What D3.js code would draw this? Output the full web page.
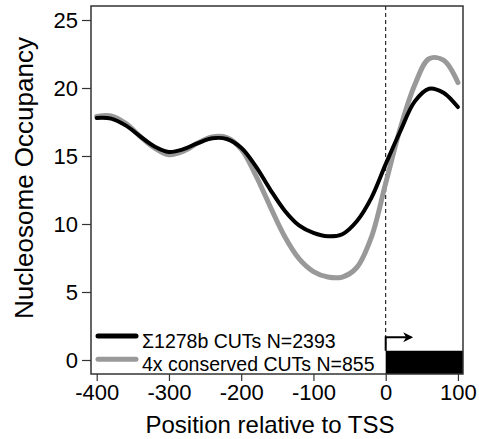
<!DOCTYPE html>
<html>
<head>
<meta charset="utf-8">
<script src="https://cdn.jsdelivr.net/npm/d3@7"></script>
<style>
  body { margin: 0; background: #fff; }
  text { font-family: "Liberation Sans", Arial, sans-serif; }
</style>
</head>
<body>
<div id="chart"></div>
<script>
// data
const positions = [-400, -380, -360, -340, -320, -300, -280, -260, -240, -220, -200, -180, -160,
  -140, -120, -100, -80, -60, -40, -20, 0, 20, 40, 60, 80, 100];
const sigmaOcc = [17.8, 17.75, 17.25, 16.45, 15.7, 15.3, 15.5, 15.95, 16.3, 16.25, 15.6, 14.25, 12.55,
  11.0, 9.9, 9.35, 9.1, 9.25, 10.2, 11.9, 14.4, 16.8, 19.0, 19.95, 19.65, 18.6];
const conservedOcc = [17.9, 17.95, 17.4, 16.45, 15.6, 15.1, 15.35, 15.95, 16.4, 16.35, 15.5, 13.6, 11.3,
  9.1, 7.45, 6.5, 6.1, 6.1, 6.8, 9.0, 13.0, 17.0, 20.2, 22.15, 22.05, 20.4];
const seriesNames = ["\u03A31278b CUTs N=2393", "4x conserved CUTs N=855"];
const seriesColors = ["#000000", "#999999"];
const xTicks = [-400, -300, -200, -100, 0, 100];
const yTicks = [0, 5, 10, 15, 20, 25];
const geneStart = 0, geneEnd = 107, geneHeight = 0.68;
const arrowTop = 1.67, arrowEnd = 38;

const margin = { top: 6, right: 16, bottom: 65, left: 91 },
    width = 479 - margin.left - margin.right,
    height = 439 - margin.top - margin.bottom;

const svg = d3.select("#chart")
  .append("svg")
  .attr("width", 479)
  .attr("height", 439);

const g = svg.append("g")
  .attr("transform", "translate(" + margin.left + "," + margin.top + ")");

const x = d3.scaleLinear().domain([-407.9, 107]).range([0, width]);
const y = d3.scaleLinear().domain([-1.03, 26.03]).range([height, 0]);

// gene box at the TSS
g.append("rect")
  .attr("x", x(geneStart))
  .attr("y", y(geneHeight))
  .attr("width", x(geneEnd) - x(geneStart))
  .attr("height", height - y(geneHeight))
  .attr("fill", "#000");

// dashed TSS line
g.append("line")
  .attr("x1", x(0))
  .attr("x2", x(0))
  .attr("y1", 0)
  .attr("y2", y(geneHeight))
  .attr("stroke", "#000")
  .attr("stroke-width", 1)
  .attr("stroke-dasharray", "4,3");

// TSS arrow
g.append("path")
  .attr("d", "M" + x(0) + "," + y(geneHeight) + "V" + y(arrowTop) + "H" + (x(arrowEnd) - 2))
  .attr("fill", "none")
  .attr("stroke", "#000")
  .attr("stroke-width", 2);

g.append("path")
  .attr("d", "M" + x(arrowEnd) + "," + y(arrowTop) + "l-10,-5 l3,5 l-3,5 z")
  .attr("fill", "#000");

// curves
const line = d3.line()
  .x((d) => x(d[0]))
  .y((d) => y(d[1]))
  .curve(d3.curveCatmullRom);

const series = [
  { name: seriesNames[1], values: conservedOcc, color: seriesColors[1], w: 5 },
  { name: seriesNames[0], values: sigmaOcc, color: seriesColors[0], w: 4 }
];

series.forEach((s) => {
  g.append("path")
    .datum(positions.map((p, i) => [p, s.values[i]]))
    .attr("fill", "none")
    .attr("stroke", s.color)
    .attr("stroke-width", s.w)
    .attr("stroke-linecap", "round")
    .attr("d", line);
});

// legend
const legendRows = [
  { name: seriesNames[0], color: seriesColors[0], ly: 1.76 },
  { name: seriesNames[1], color: seriesColors[1], ly: 0.05 }
];

g.selectAll(".legline")
  .data(legendRows)
  .join("line")
  .attr("class", "legline")
  .attr("x1", 7)
  .attr("x2", 45)
  .attr("y1", (d) => y(d.ly))
  .attr("y2", (d) => y(d.ly))
  .attr("stroke", (d) => d.color)
  .attr("stroke-width", 5)
  .attr("stroke-linecap", "round");

g.selectAll(".legtext")
  .data(legendRows)
  .join("text")
  .attr("class", "legtext")
  .attr("x", 51)
  .attr("y", (d) => y(d.ly) + 12)
  .style("font-size", "19.5px")
  .attr("fill", "#000")
  .text((d) => d.name);

// frame
g.append("rect")
  .attr("width", width)
  .attr("height", height)
  .attr("fill", "none")
  .attr("stroke", "#333")
  .attr("stroke-width", 1.5);

// axes
const xAxis = g.append("g")
  .attr("transform", "translate(0," + height + ")")
  .call(d3.axisBottom(x).tickValues(xTicks).tickSize(7).tickPadding(3).tickFormat(d3.format("d")));

const yAxis = g.append("g")
  .call(d3.axisLeft(y).tickValues(yTicks).tickSize(9).tickPadding(4).tickFormat(d3.format("d")));

[xAxis, yAxis].forEach((a) => {
  a.select(".domain").remove();
  a.selectAll("line").attr("stroke", "#333").attr("stroke-width", 1.2);
  a.selectAll("text")
    .style("font-family", "'Liberation Sans', Arial, sans-serif")
    .style("font-size", "22px")
    .attr("fill", "#000");
});

xAxis.selectAll("text").text((d) => d < 0 ? "-" + Math.abs(d) : d);

// titles
svg.append("text")
  .attr("x", 270)
  .attr("y", 433)
  .attr("text-anchor", "middle")
  .style("font-size", "24px")
  .text("Position relative to TSS");

svg.append("text")
  .attr("transform", "translate(33,178) rotate(-90)")
  .attr("text-anchor", "middle")
  .style("font-size", "26px")
  .text("Nucleosome Occupancy");
</script>
</body>
</html>
